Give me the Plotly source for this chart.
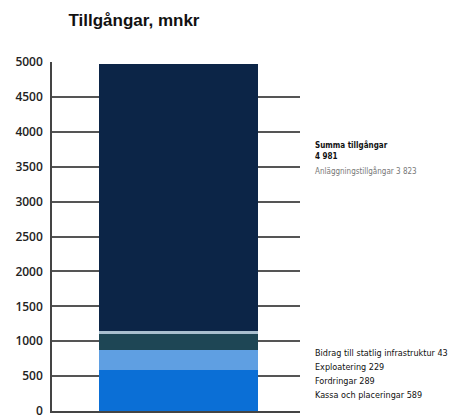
import plotly.graph_objects as go

categories = ["Kassa och placeringar", "Fordringar", "Exploatering",
              "Bidrag till statlig infrastruktur", "Anläggningstillgångar"]
values = [589, 289, 229, 43, 3823]
colors = ["#0b6fd6", "#5f9fe2", "#1e4655", "#a9bfcf", "#0c2547"]
total = 4981
y_ticks = [0, 500, 1000, 1500, 2000, 2500, 3000, 3500, 4000, 4500, 5000]

fig = go.Figure()
for cat, val, col in zip(categories, values, colors):
    fig.add_trace(go.Bar(x=[0.51], y=[val], width=[0.64], name=cat,
                         marker=dict(color=col, line=dict(width=0)),
                         hoverinfo="name+y"))

narrow = "Liberation Sans Narrow, DejaVu Sans Condensed, sans-serif"
fmt = lambda v: f"{v:,}".replace(",", " ")
ann = []
ax = 1.052
ann.append(dict(x=ax, y=3805, xref="paper", yref="y", xanchor="left", yanchor="middle",
                text="<b>Summa tillgångar</b>", showarrow=False,
                font=dict(family=narrow, size=8, color="#111")))
ann.append(dict(x=ax, y=3650, xref="paper", yref="y", xanchor="left", yanchor="middle",
                text="<b>%s</b>" % fmt(total), showarrow=False,
                font=dict(family=narrow, size=8, color="#111")))
ann.append(dict(x=ax, y=3440, xref="paper", yref="y", xanchor="left", yanchor="middle",
                text="%s %s" % (categories[4], fmt(values[4])),
                showarrow=False, font=dict(family=narrow, size=8, color="#777")))
low_y = [831, 630, 430, 229]
for i, yy in zip([3, 2, 1, 0], low_y):
    ann.append(dict(x=ax, y=yy, xref="paper", yref="y", xanchor="left", yanchor="middle",
                    text="%s %s" % (categories[i], fmt(values[i])),
                    showarrow=False, font=dict(family=narrow, size=9, color="#111")))

fig.update_layout(
    width=452, height=409,
    margin=dict(l=44, r=160, t=54, b=6, autoexpand=False),
    paper_bgcolor="white", plot_bgcolor="white",
    barmode="stack", showlegend=False,
    title=dict(text="<b>Tillgångar, mnkr</b>", x=126 / 452, xref="container", xanchor="center",
               y=1 - 12 / 409, yref="container", yanchor="middle",
               font=dict(family="Liberation Sans, Arial, sans-serif", size=17, color="#111")),
    annotations=ann,
    xaxis=dict(range=[0, 1], showticklabels=False, showgrid=False, zeroline=False,
               showline=True, linecolor="#444", linewidth=1.5, fixedrange=True,
               automargin=False),
    yaxis=dict(range=[0, 5000], tickvals=y_ticks, ticktext=[str(t) for t in y_ticks],
               showgrid=True, gridcolor="#555", gridwidth=1.5, zeroline=False,
               showline=True, linecolor="#444", linewidth=1.5, ticks="",
               automargin=False, ticklabeloverflow="allow",
               tickfont=dict(family="Open Sans, Liberation Sans, sans-serif", size=12,
                             color="#222", weight=600),
               ticklabelstandoff=5),
)
fig.write_html("out.html")
